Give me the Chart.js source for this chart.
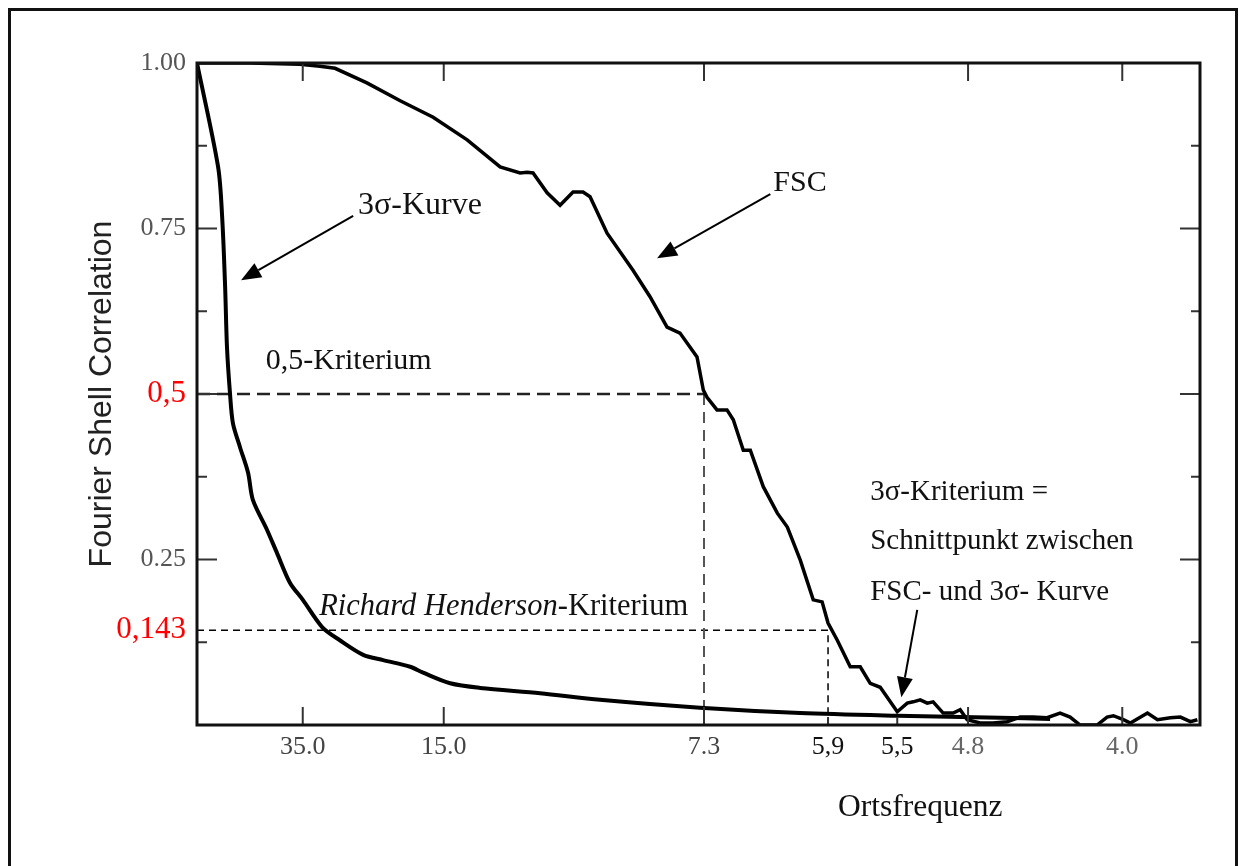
<!DOCTYPE html>
<html>
<head>
<meta charset="utf-8">
<title>Fourier Shell Correlation</title>
<script src="https://cdn.jsdelivr.net/npm/chart.js@4.4.1/dist/chart.umd.min.js"></script>
<style>
  html, body { margin: 0; padding: 0; background: #fff; }
  #wrap { width: 1239px; height: 866px; }
</style>
</head>
<body>
<div id="wrap"><canvas id="fscChart" width="1239" height="866"></canvas></div>
<script>
// spatial frequency in 1/Å, correlation 0..1
const fscFreq = [
  0, 0.0143, 0.0278, 0.0332, 0.0373, 0.0459, 0.0549, 0.0638, 0.0730, 0.0819,
  0.0873, 0.0892, 0.0908, 0.0946, 0.0981, 0.1016, 0.1043, 0.1062, 0.1108, 0.1178,
  0.1224, 0.1270, 0.1305, 0.1351, 0.1368, 0.1378, 0.1405, 0.1432, 0.1449, 0.1476,
  0.1495, 0.1530, 0.1568, 0.1595, 0.1630, 0.1665, 0.1689, 0.1705, 0.1730, 0.1765,
  0.1792, 0.1819, 0.1846, 0.1892, 0.1919, 0.1935, 0.1954, 0.1973, 0.1989, 0.2016,
  0.2043, 0.2062, 0.2081, 0.2116, 0.2151, 0.2189, 0.2224, 0.2259, 0.2297, 0.2332,
  0.2359, 0.2386, 0.2432, 0.2459, 0.2476, 0.2503, 0.2522, 0.2568, 0.2595, 0.2630,
  0.2657, 0.2684, 0.2703
];
const fscCorr = [
  1.000, 1.000, 0.998, 0.995, 0.992, 0.970, 0.943, 0.918, 0.884, 0.843,
  0.834, 0.835, 0.834, 0.804, 0.785, 0.805, 0.805, 0.798, 0.743, 0.687,
  0.647, 0.601, 0.592, 0.556, 0.506, 0.495, 0.476, 0.476, 0.461, 0.415,
  0.415, 0.360, 0.320, 0.299, 0.249, 0.189, 0.186, 0.154, 0.128, 0.088,
  0.088, 0.063, 0.057, 0.020, 0.033, 0.035, 0.038, 0.033, 0.035, 0.018,
  0.018, 0.023, 0.008, 0.003, 0.003, 0.005, 0.012, 0.012, 0.011, 0.018,
  0.012, 0.000, 0.000, 0.012, 0.014, 0.008, 0.003, 0.018, 0.008, 0.011,
  0.012, 0.005, 0.008
];
const sigmaFreq = [
  0, 0.0057, 0.0068, 0.0076, 0.0081, 0.0089, 0.0097, 0.0116, 0.0138, 0.0151,
  0.0189, 0.0216, 0.0251, 0.0286, 0.0338, 0.0386, 0.0449, 0.0503, 0.0576, 0.0611,
  0.0684, 0.0765, 0.0927, 0.1089, 0.1359, 0.1630, 0.1892, 0.2170, 0.2305
];
const sigmaCorr = [
  1.000, 0.843, 0.767, 0.662, 0.571, 0.502, 0.456, 0.420, 0.381, 0.340,
  0.295, 0.260, 0.215, 0.189, 0.148, 0.128, 0.106, 0.098, 0.088, 0.079,
  0.063, 0.056, 0.048, 0.038, 0.026, 0.018, 0.014, 0.011, 0.009
];

// axis ticks
const xTickValues = [1 / 35, 1 / 15, 1 / 7.3, 0.1705, 0.1892, 1 / 4.8, 1 / 4];
const xTickLabels = ["35.0", "15.0", "7.3", "5,9", "5,5", "4.8", "4.0"];
const xTickColors = ["#444", "#444", "#444", "#111", "#111", "#666", "#666"];
const yTickValues = [0.143, 0.25, 0.5, 0.75, 1.0];
const yTickLabels = ["0,143", "0.25", "0,5", "0.75", "1.00"];
const yTickRed = [true, false, true, false, false];
const yMajor = [0.25, 0.5, 0.75];
const yMinor = [0.125, 0.375, 0.625, 0.875];
const xFullTicks = [1 / 35, 1 / 15, 1 / 7.3, 1 / 4.8, 1 / 4];
const xShortTicks = [0.1705, 0.1892];

// criteria
const halfCrit = 0.5, halfFreq = 1 / 7.3;
const hendCrit = 0.143, hendFreq = 0.1705;

// annotations, in data units
const notes = [
  { text: "3σ-Kurve", x: 0.0435, y: 0.785, size: 32 },
  { text: "FSC", x: 0.1557, y: 0.819, size: 30 },
  { text: "0,5-Kriterium", x: 0.0186, y: 0.550, size: 30 },
  { text: "3σ-Kriterium =", x: 0.1819, y: 0.352, size: 29 },
  { text: "Schnittpunkt zwischen", x: 0.1819, y: 0.278, size: 29 },
  { text: "FSC- und 3σ- Kurve", x: 0.1819, y: 0.201, size: 29 },
  { text: "Ortsfrequenz", x: 0.1732, y: -0.125, size: 31.5 }
];
const hendNote = { italic: "Richard Henderson", rest: "-Kriterium", x: 0.033, y: 0.178, size: 30.5 };
const arrows = [
  { from: [0.0422, 0.769], to: [0.0119, 0.672] },
  { from: [0.1549, 0.802], to: [0.1243, 0.705] },
  { from: [0.1946, 0.174], to: [0.1903, 0.042] }
];

const serif = "'Liberation Serif', 'Times New Roman', serif";
const pts = (xs, ys) => xs.map((x, i) => ({ x: x, y: ys[i] }));

function drawArrow(ctx, x1, y1, x2, y2) {
  const ang = Math.atan2(y2 - y1, x2 - x1);
  const len = 20, half = 8;
  const bx = x2 - len * Math.cos(ang), by = y2 - len * Math.sin(ang);
  ctx.beginPath();
  ctx.moveTo(x1, y1);
  ctx.lineTo(bx, by);
  ctx.stroke();
  ctx.beginPath();
  ctx.moveTo(x2, y2);
  ctx.lineTo(bx + half * Math.sin(ang), by - half * Math.cos(ang));
  ctx.lineTo(bx - half * Math.sin(ang), by + half * Math.cos(ang));
  ctx.closePath();
  ctx.fill();
}

const framePlugin = {
  id: "frame",
  afterDraw(chart) {
    const { ctx, chartArea: a, scales: { x, y } } = chart;
    ctx.save();

    // page border
    ctx.strokeStyle = "#111";
    ctx.lineWidth = 3;
    ctx.strokeRect(9.5, 9.5, 1227, 900);

    // inner ticks
    ctx.strokeStyle = "#333";
    ctx.lineWidth = 2;
    ctx.beginPath();
    yMajor.forEach(v => {
      const py = y.getPixelForValue(v);
      ctx.moveTo(a.left, py); ctx.lineTo(a.left + 20, py);
      ctx.moveTo(a.right, py); ctx.lineTo(a.right - 20, py);
    });
    yMinor.forEach(v => {
      const py = y.getPixelForValue(v);
      ctx.moveTo(a.left, py); ctx.lineTo(a.left + 10, py);
      ctx.moveTo(a.right, py); ctx.lineTo(a.right - 9, py);
    });
    xFullTicks.forEach(v => {
      const px = x.getPixelForValue(v);
      ctx.moveTo(px, a.bottom); ctx.lineTo(px, a.bottom - 18);
      ctx.moveTo(px, a.top); ctx.lineTo(px, a.top + 18);
    });
    xShortTicks.forEach(v => {
      const px = x.getPixelForValue(v);
      ctx.moveTo(px, a.bottom); ctx.lineTo(px, a.bottom - 8);
    });
    ctx.stroke();

    // plot frame
    ctx.strokeStyle = "#111";
    ctx.lineWidth = 3;
    ctx.strokeRect(a.left, a.top, a.right - a.left, a.bottom - a.top);

    // arrows
    ctx.lineWidth = 2;
    ctx.fillStyle = "#000";
    ctx.strokeStyle = "#000";
    arrows.forEach(ar => {
      drawArrow(ctx,
        x.getPixelForValue(ar.from[0]), y.getPixelForValue(ar.from[1]),
        x.getPixelForValue(ar.to[0]), y.getPixelForValue(ar.to[1]));
    });

    // text notes
    ctx.fillStyle = "#111";
    ctx.textBaseline = "middle";
    ctx.textAlign = "left";
    notes.forEach(n => {
      ctx.font = n.size + "px " + serif;
      ctx.fillText(n.text, x.getPixelForValue(n.x), y.getPixelForValue(n.y));
    });
    const hx = x.getPixelForValue(hendNote.x), hy = y.getPixelForValue(hendNote.y);
    ctx.font = "italic " + hendNote.size + "px " + serif;
    ctx.fillText(hendNote.italic, hx, hy);
    const w = ctx.measureText(hendNote.italic).width;
    ctx.font = hendNote.size + "px " + serif;
    ctx.fillText(hendNote.rest, hx + w, hy);

    ctx.restore();
  }
};

new Chart(document.getElementById("fscChart"), {
  type: "line",
  data: {
    datasets: [
      {
        label: "FSC",
        data: pts(fscFreq, fscCorr),
        borderColor: "#000",
        borderWidth: 3.5,
        pointRadius: 0,
        tension: 0
      },
      {
        label: "3σ-Kurve",
        data: pts(sigmaFreq, sigmaCorr),
        borderColor: "#000",
        borderWidth: 4,
        pointRadius: 0,
        tension: 0.3
      },
      {
        label: "0,5 horizontal",
        data: [{ x: 0, y: halfCrit }, { x: halfFreq, y: halfCrit }],
        borderColor: "#222",
        borderWidth: 2.5,
        borderDash: [13, 7],
        pointRadius: 0
      },
      {
        label: "0,5 vertical",
        data: [{ x: halfFreq, y: halfCrit }, { x: halfFreq, y: 0 }],
        borderColor: "#555",
        borderWidth: 2,
        borderDash: [11, 7],
        pointRadius: 0
      },
      {
        label: "Henderson",
        data: [{ x: 0, y: hendCrit }, { x: hendFreq, y: hendCrit }, { x: hendFreq, y: 0 }],
        borderColor: "#000",
        borderWidth: 1.5,
        borderDash: [7, 5],
        pointRadius: 0
      }
    ]
  },
  options: {
    responsive: false,
    animation: false,
    layout: { padding: { top: 63, right: 39, left: 0, bottom: 0 } },
    plugins: { legend: { display: false }, tooltip: { enabled: false } },
    scales: {
      x: {
        type: "linear",
        min: 0,
        max: 0.271,
        grid: { display: false, drawTicks: false },
        border: { display: false },
        afterBuildTicks: s => { s.ticks = xTickValues.map(v => ({ value: v })); },
        afterFit: s => { s.height = 141; },
        ticks: {
          autoSkip: false,
          maxRotation: 0,
          padding: 7,
          callback: (v, i) => xTickLabels[i],
          color: c => xTickColors[c.index],
          font: { family: serif, size: 26 }
        }
      },
      y: {
        min: 0,
        max: 1,
        grid: { display: false, drawTicks: false },
        border: { display: false },
        afterBuildTicks: s => { s.ticks = yTickValues.map(v => ({ value: v })); },
        afterFit: s => { s.width = 197; },
        ticks: {
          padding: 11,
          callback: (v, i) => yTickLabels[i],
          color: c => yTickRed[c.index] ? "#ff0000" : "#555",
          font: c => ({ family: serif, size: yTickRed[c.index] ? 31 : 26 })
        },
        title: {
          display: true,
          text: "Fourier Shell Correlation",
          color: "#222",
          font: { family: "'Liberation Sans', Arial, sans-serif", size: 32 },
          padding: { top: 83, bottom: 0 }
        }
      }
    }
  },
  plugins: [framePlugin]
});
</script>
</body>
</html>
